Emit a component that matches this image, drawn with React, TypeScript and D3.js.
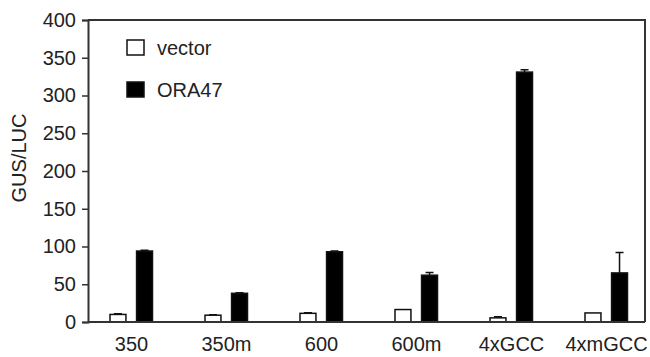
import React, { useEffect, useRef } from "react";
import * as d3 from "d3";

const categories = ["350", "350m", "600", "600m", "4xGCC", "4xmGCC"];
const seriesNames = ["vector", "ORA47"];
const vectorValues = [10, 9, 11.5, 16.5, 5.5, 12];
const vectorErrors = [1, 0.5, 0.8, 0, 1.5, 0];
const oraValues = [94, 38, 93, 62, 331, 65];
const oraErrors = [1, 0.8, 1.2, 3.5, 3, 27];
const yTicks = [0, 50, 100, 150, 200, 250, 300, 350, 400];

export default function App() {
  const ref = useRef<SVGSVGElement>(null);

  useEffect(() => {
    const width = 650,
      height = 357,
      margin = { top: 20, right: 5, bottom: 35, left: 88 };
    const font = "'Liberation Sans', Arial, Helvetica, sans-serif";
    const axisColor = "#333";

    const svg = d3.select(ref.current);
    svg.selectAll("*").remove();

    const y = d3
      .scaleLinear()
      .domain([0, 400])
      .range([height - margin.bottom, margin.top]);

    // groups are spaced a little wider than the frame
    const x = d3.scaleBand().domain(categories).range([84, 654]).padding(0);
    const inner = d3
      .scaleBand()
      .domain(seriesNames)
      .range([26, 68.5])
      .paddingInner(0.4)
      .paddingOuter(0);

    const rows = categories.map((c, i) => ({
      cat: c,
      vals: [
        { s: "vector", v: vectorValues[i], e: vectorErrors[i] },
        { s: "ORA47", v: oraValues[i], e: oraErrors[i] },
      ],
    }));

    // frame: top + right lines
    const x0 = margin.left,
      x1 = width - margin.right;
    svg
      .append("path")
      .attr("d", `M${x0},${y(400)}H${x1}V${y(0)}`)
      .attr("fill", "none")
      .attr("stroke", axisColor)
      .attr("stroke-width", 2);

    // bars
    const g = svg
      .selectAll("g.grp")
      .data(rows)
      .enter()
      .append("g")
      .attr("transform", (d) => `translate(${x(d.cat)},0)`);

    g.selectAll("path.err")
      .data((d) => d.vals.filter((v) => v.e > 0))
      .enter()
      .append("path")
      .attr("d", (d) => {
        const cx = inner(d.s)! + inner.bandwidth() / 2;
        const top = y(d.v + d.e);
        return `M${cx},${y(d.v)}V${top}M${cx - 4},${top}H${cx + 4}`;
      })
      .attr("stroke", "#111")
      .attr("stroke-width", 1.5)
      .attr("fill", "none");

    g.selectAll("rect")
      .data((d) => d.vals)
      .enter()
      .append("rect")
      .attr("x", (d) => inner(d.s)!)
      .attr("y", (d) => y(d.v))
      .attr("width", inner.bandwidth())
      .attr("height", (d) => y(0) - y(d.v))
      .attr("fill", (d) => (d.s === "vector" ? "#fff" : "#000"))
      .attr("stroke", "#111")
      .attr("stroke-width", 1.5);

    // y axis
    const yAxis = svg
      .append("g")
      .attr("transform", `translate(${x0},0)`)
      .call(d3.axisLeft(y).tickValues(yTicks).tickSize(6).tickPadding(6));
    yAxis.select(".domain").attr("stroke", axisColor).attr("stroke-width", 2);
    yAxis.selectAll(".tick line").attr("stroke", axisColor).attr("stroke-width", 1.5);
    yAxis
      .selectAll(".tick text")
      .attr("fill", "#222")
      .style("font-family", font)
      .style("font-size", "20px");

    // x axis
    const xAxis = svg
      .append("g")
      .attr("transform", `translate(0,${y(0)})`)
      .call(d3.axisBottom(x).tickSize(0).tickPadding(15));
    xAxis.select(".domain").remove();
    xAxis
      .selectAll(".tick text")
      .attr("fill", "#222")
      .style("font-family", font)
      .style("font-size", "20px");
    svg
      .append("line")
      .attr("x1", x0)
      .attr("x2", x1)
      .attr("y1", y(0))
      .attr("y2", y(0))
      .attr("stroke", axisColor)
      .attr("stroke-width", 2);

    // y label
    svg
      .append("text")
      .attr("transform", `translate(26,158) rotate(-90)`)
      .attr("text-anchor", "middle")
      .attr("fill", "#222")
      .style("font-family", font)
      .style("font-size", "20px")
      .text("GUS/LUC");

    // legend
    const legend = svg
      .selectAll("g.leg")
      .data(seriesNames)
      .enter()
      .append("g")
      .attr("transform", (_, i) => `translate(127,${40 + i * 42})`);
    legend
      .append("rect")
      .attr("width", 17)
      .attr("height", 15)
      .attr("fill", (d) => (d === "vector" ? "#fff" : "#000"))
      .attr("stroke", "#111")
      .attr("stroke-width", 1.5);
    legend
      .append("text")
      .attr("x", 30)
      .attr("y", 15)
      .attr("fill", "#222")
      .style("font-family", font)
      .style("font-size", "20px")
      .text((d) => d);
  }, []);

  return (
    <svg
      ref={ref}
      width={650}
      height={357}
      style={{ position: "absolute", left: 0, top: 0, background: "#fff" }}
    />
  );
}
